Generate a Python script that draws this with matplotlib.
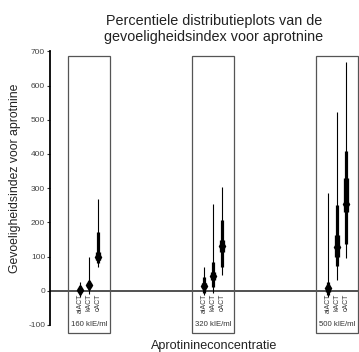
import matplotlib.pyplot as plt
from matplotlib.patches import Rectangle

plt.rcParams['font.family'] = ['Liberation Sans', 'DejaVu Sans']

# concentraties en metingen
groepen = ['160 kIE/ml', '320 kIE/ml', '500 kIE/ml']
tests = ['aiACT', 'kACT', 'cACT']

p_min = [[-17, -10, 68], [-12, -8, 46], [-17, 31, 95]]
p_10 = [[-8, 7, 80], [-8, 12, 70], [-13, 73, 137]]
p_25 = [[-3, 10, 90], [7, 31, 114], [-5, 100, 231]]
p_med = [[2, 17, 100], [15, 44, 131], [8, 129, 255]]
p_75 = [[8, 24, 114], [22, 56, 148], [12, 163, 329]]
p_90 = [[15, 29, 172], [41, 85, 207], [26, 250, 409]]
p_max = [[25, 100, 268], [70, 253, 304], [287, 523, 670]]

yticks = [-100, 0, 100, 200, 300, 400, 500, 600, 700]

fig = plt.figure(figsize=(3.59, 3.52), dpi=100)
ax = fig.add_axes([50 / 359, 1 - 333.5 / 352, 309 / 359, 289 / 352])
ax.set_xlim(0.685, 3.177)
ax.set_ylim(-125, 720)

for spine in ['top', 'right', 'bottom']:
    ax.spines[spine].set_visible(False)
ax.spines['left'].set_bounds(-100, 700)
ax.spines['left'].set_linewidth(1.3)
ax.set_xticks([])
ax.set_yticks(yticks)
ax.set_yticklabels([str(t) for t in yticks], fontsize=6, color='#444444')
ax.tick_params(axis='y', length=2.5, width=0.8, pad=1, color='#333333')

ax.axhline(0, color='#333333', lw=1.2, zorder=1)

offs = [-0.075, 0.0, 0.075]
for g, naam in enumerate(groepen):
    xc = g + 1
    ax.add_patch(Rectangle((xc - 0.17, -124), 0.34, 810, fill=False,
                           edgecolor='#555555', lw=0.9, clip_on=False, zorder=2))
    for t in range(3):
        x = xc + offs[t]
        ax.vlines(x, p_min[g][t], p_max[g][t], color='black', lw=0.8, zorder=3)
        ax.vlines(x, p_10[g][t], p_90[g][t], color='black', lw=2.3, zorder=3)
        ax.vlines(x, p_25[g][t], p_75[g][t], color='black', lw=3.8, zorder=3)
        ax.plot(x, p_med[g][t], marker='d', ms=5.5, color='black', zorder=4)
        ax.text(x, -8, tests[t], rotation=90, ha='center', va='top',
                fontsize=5, color='#333333')
    ax.text(xc, -100, naam, ha='center', va='center', fontsize=5.6, color='#333333')

fig.text(214 / 359, 1 - 21 / 352, 'Percentiele distributieplots van de',
         ha='center', va='center', fontsize=10.4, color='#222222')
fig.text(214 / 359, 1 - 37 / 352, 'gevoeligheidsindex voor aprotnine',
         ha='center', va='center', fontsize=10.4, color='#222222')
fig.text(214 / 359, 1 - 346.5 / 352, 'Aprotinineconcentratie',
         ha='center', va='center', fontsize=9.1, color='#222222')
fig.text(15 / 359, 1 - 178 / 352, 'Gevoeligheidsindez voor aprotnine',
         rotation=90, ha='center', va='center', fontsize=8.8, color='#222222')

fig.savefig('out.png', dpi=100)
